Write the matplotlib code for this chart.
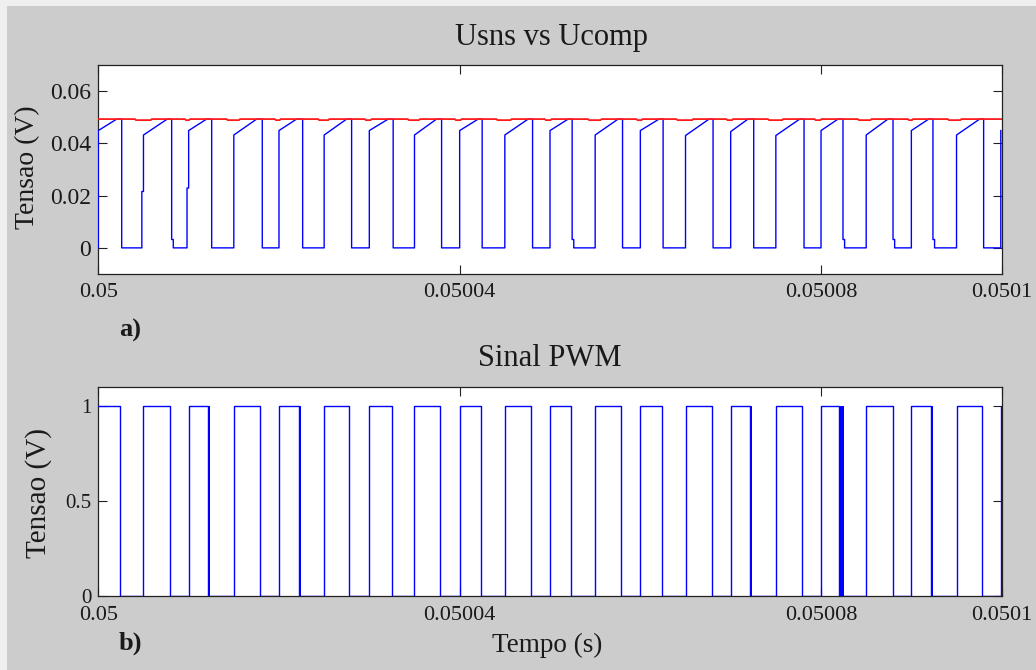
import matplotlib
matplotlib.use("Agg")
import matplotlib.pyplot as plt
from matplotlib.patches import Rectangle

plt.rcParams['font.family'] = ['Liberation Serif', 'DejaVu Serif']

# ---- time base (microseconds after t = 0.05 s) ----
T0 = 0.05
clock_us = [0, 5, 10, 15, 20, 25, 30, 35, 40, 45, 50,
            55, 60, 65, 70, 75, 80, 85, 90, 95, 99.9]

# ---- sensed current signal (Usns) ----
usns_start = [0.0449, 0.0432, 0.0449, 0.0432, 0.0449, 0.0432, 0.0449,
              0.0432, 0.0449, 0.0432, 0.0449, 0.0432, 0.0449, 0.0430,
              0.0445, 0.0430, 0.0449, 0.0432, 0.0449, 0.0432, 0.0449]
usns_peak_us = [2.04, 7.63, 11.99, 17.53, 21.95, 27.49, 32.09, 37.44,
                42.05, 47.58, 52.01, 57.54, 62.07, 67.61, 71.92, 77.64,
                81.88, 87.41, 91.92, 97.56]
usns_off_us = [2.59, 8.12, 12.55, 18.15, 22.62, 28.04, 32.64, 38.00,
               42.49, 48.07, 52.45, 58.03, 62.52, 68.05, 72.55, 78.12,
               82.43, 87.97, 92.39, 98.00]
# leading-edge steps on turn-on (cycle, level) and residual on turn-off
rise_step = {1: 0.0216, 2: 0.0229}
fall_step = {1: 0.0032, 10: 0.0032, 16: 0.0032, 17: 0.0032, 18: 0.0032}
step_us = 0.18

# ---- comparison level (Ucomp) ----
ucomp_level = 0.0493
ucomp_dip = 0.0489
dip_start_us = [4.06, 9.59, 14.21, 19.55, 24.34, 29.51, 34.27, 39.47, 44.08,
                49.43, 54.22, 59.57, 64.00, 69.53, 74.14, 79.30, 84.09, 89.63,
                94.05]
dip_end_us = [5.91, 10.15, 15.68, 20.18, 25.56, 30.25, 35.60, 40.21, 45.74,
              50.17, 55.70, 60.24, 65.84, 70.26, 75.80, 80.04, 85.58, 90.18,
              95.53]

# ---- PWM signal ----
pwm_fall_us = [2.40, 7.93, 12.17, 17.93, 22.24, 27.77, 32.46, 37.84, 42.31,
               47.85, 52.34, 57.87, 62.37, 67.91, 72.19, 77.90, 81.99, 87.97,
               92.14, 97.82]
# bursts of fast switching right after turn-off (cycle: end time)
pwm_burst_end_us = {2: 12.36, 4: 22.43, 14: 72.41, 16: 82.51, 18: 92.40}

x_ticks = [0.05, 0.05004, 0.05008, 0.0501]
x_labels = ['0.05', '0.05004', '0.05008', '0.0501']
y1_ticks = [0, 0.02, 0.04, 0.06]
y1_labels = ['0', '0.02', '0.04', '0.06']
y2_ticks = [0, 0.5, 1]
y2_labels = ['0', '0.5', '1']


def sec(us):
    return T0 + us * 1e-6


# build Usns trace
ut, uv = [0.0], [0.0]
for k in range(len(usns_peak_us)):
    t_on = clock_us[k]
    if k > 0:
        if k in rise_step:
            ut += [t_on - step_us, t_on - step_us, t_on]
            uv += [0.0, rise_step[k], rise_step[k]]
        else:
            ut.append(t_on)
            uv.append(0.0)
    ut += [t_on, usns_peak_us[k], usns_off_us[k]]
    uv += [usns_start[k], ucomp_level, ucomp_level]
    if k in fall_step:
        ut += [usns_off_us[k], usns_off_us[k] + step_us, usns_off_us[k] + step_us]
        uv += [fall_step[k], fall_step[k], 0.0]
    else:
        ut.append(usns_off_us[k])
        uv.append(0.0)
ut += [clock_us[-1], clock_us[-1]]
uv += [0.0, usns_start[-1]]

# build Ucomp trace
ct, cv = [0.0], [ucomp_level]
for s, e in zip(dip_start_us, dip_end_us):
    ct += [s, s + 0.1, e - 0.1, e]
    cv += [ucomp_level, ucomp_dip, ucomp_dip, ucomp_level]
ct.append(100.0)
cv.append(ucomp_level)

# build PWM trace
pt, pv = [], []
for k in range(len(pwm_fall_us)):
    pt += [clock_us[k], clock_us[k], pwm_fall_us[k], pwm_fall_us[k]]
    pv += [0.0 if k > 0 else 1.0, 1.0, 1.0, 0.0]
pt += [clock_us[-1], clock_us[-1], 100.0]
pv += [0.0, 1.0, 1.0]

BG = '#cccccc'
INK = '#1a1a1a'
fig = plt.figure(figsize=(10.36, 6.70), dpi=100, facecolor=BG)
W, H = 1036.0, 670.0
fig.add_artist(Rectangle((0, 0), 7 / W, 1, transform=fig.transFigure,
                         color='#efefef', lw=0, zorder=0))
fig.add_artist(Rectangle((0, 1 - 6 / H), 1, 6 / H, transform=fig.transFigure,
                         color='#efefef', lw=0, zorder=0))

left, right = 98.3, 1001.7
ax1 = fig.add_axes([left / W, 1 - 274 / H, (right - left) / W, (274 - 65) / H])
ax2 = fig.add_axes([left / W, 1 - 596 / H, (right - left) / W, (596 - 387.3) / H])

ax1.plot([sec(t) for t in ut], uv, color='#0000ff', lw=1.0, zorder=3)
ax1.plot([sec(t) for t in ct], cv, color='#ff1a1a', lw=1.3, zorder=4)

ax2.plot([sec(t) for t in pt], pv, color='#0000ff', lw=1.0, zorder=3)
for k, end in pwm_burst_end_us.items():
    ax2.fill_between([sec(pwm_fall_us[k]), sec(end)], 0, 1,
                     color='#0000ff', lw=0, zorder=3)

ax1.set_ylim(-0.01, 0.07)
ax2.set_ylim(0, 1.1)
for ax, yt, yl, ysz, xpad in ((ax1, y1_ticks, y1_labels, 17, 6.5),
                              (ax2, y2_ticks, y2_labels, 15, 7.5)):
    ax.set_xlim(T0, 0.0501)
    ax.set_xticks(x_ticks)
    ax.set_xticklabels(x_labels)
    ax.set_yticks(yt)
    ax.set_yticklabels(yl)
    ax.set_facecolor('white')
    ax.tick_params(axis='both', direction='in', length=6.5, width=0.8,
                   top=True, right=True, colors='#222222', labelcolor=INK)
    ax.tick_params(axis='x', labelsize=16, pad=xpad)
    ax.tick_params(axis='y', labelsize=ysz, pad=5)
    for sp in ax.spines.values():
        sp.set_color('#222222')
        sp.set_linewidth(0.9)

fig.text(551.5 / W, 1 - 45 / H, 'Usns vs Ucomp', ha='center', va='baseline',
         fontsize=22, color=INK)
fig.text(550 / W, 1 - 366 / H, 'Sinal PWM', ha='center', va='baseline',
         fontsize=22, color=INK)
fig.text(547.5 / W, 1 - 652 / H, 'Tempo (s)', ha='center', va='baseline',
         fontsize=19.5, color=INK)
fig.text(28 / W, 1 - 167 / H, 'Tensao (V)', rotation=90, ha='center',
         va='center', fontsize=20, color=INK)
fig.text(38.5 / W, 1 - 493 / H, 'Tensao (V)', rotation=90, ha='center',
         va='center', fontsize=21, color=INK)
fig.text(130 / W, 1 - 337 / H, 'a)', ha='center', va='baseline',
         fontsize=19, fontweight='bold', color=INK)
fig.text(130 / W, 1 - 650 / H, 'b)', ha='center', va='baseline',
         fontsize=19, fontweight='bold', color=INK)

fig.savefig('out.png', dpi=100, facecolor=BG)
